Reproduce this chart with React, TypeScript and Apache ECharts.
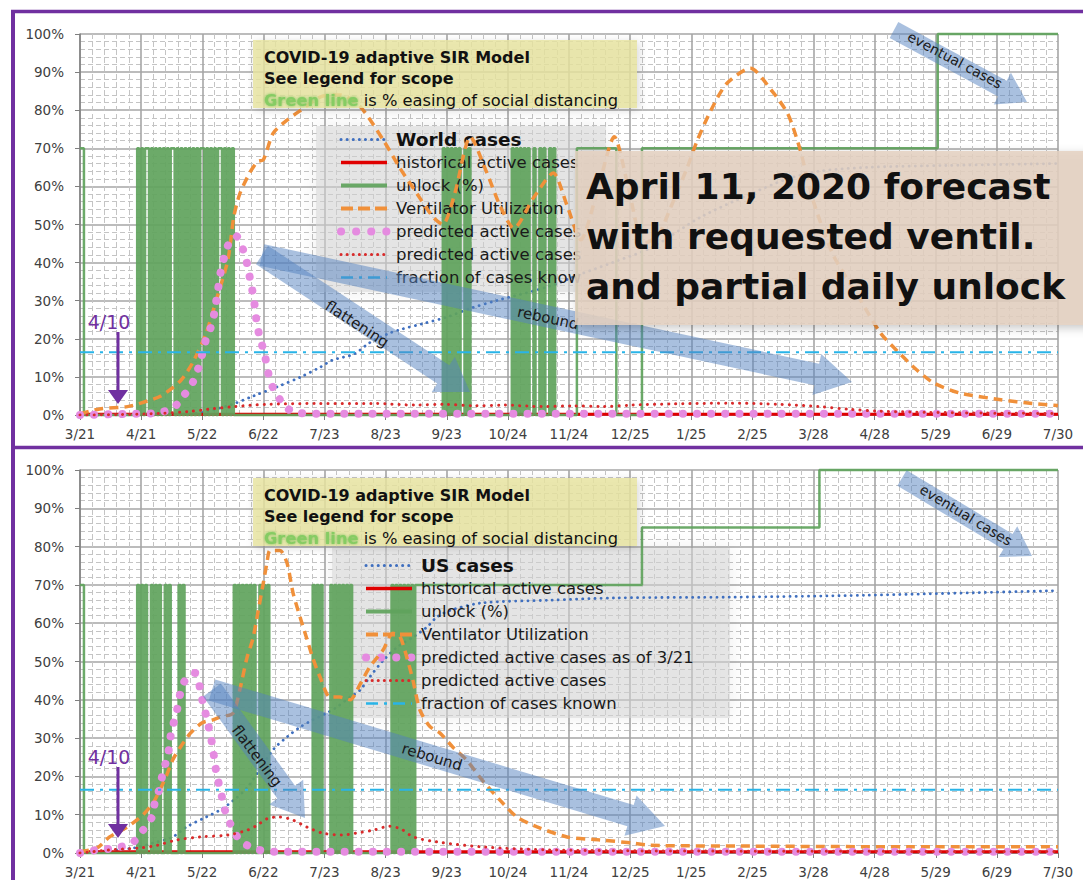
import React, { useEffect, useRef } from 'react';
import * as echarts from 'echarts';

const FONT = '"DejaVu Sans", sans-serif';

// x axis: day index from 3/21/2020; ticks every 31 days
const xTickLabels = ['3/21', '4/21', '5/22', '6/22', '7/23', '8/23', '9/23', '10/24', '11/24', '12/25', '1/25', '2/25', '3/28', '4/28', '5/29', '6/29', '7/30'];
const TICK_DAYS = 31;
const LAST_DAY = 496;

// ---------- World (top panel) ----------
const worldCases = [[0, 0], [40, 0.1], [60, 0.5], [76, 2.6], [88, 5], [100, 7.4], [112, 10], [122, 12.6], [128, 14.4], [139, 16], [147, 19], [157, 21.5], [163, 22.5], [174, 24], [186, 25.7], [198, 28], [211, 30], [237, 33.6], [254, 37], [270, 40], [290, 44], [315, 52], [340, 58], [359, 62], [375, 64], [400, 65], [440, 65.5], [496, 66]];
const worldHistorical = [[0, 0.2], [496, 0.2]];
const worldUnlock = [[0, 70], [2, 0],
  [29, 70], [30, 0], [31, 70], [32, 0], [33, 70], [35, 0], [36, 70], [37, 0], [38, 70], [39, 0], [40, 70], [41, 0], [42, 70], [43, 0], [44, 70], [45, 0], [46, 70], [48, 0], [49, 70], [50, 0], [51, 70], [52, 0], [53, 70], [54, 0], [55, 70], [56, 0], [57, 70], [58, 0], [59, 70], [60, 0], [61, 70], [63, 0], [64, 70], [65, 0], [66, 70], [67, 0], [68, 70], [69, 0], [70, 70], [72, 0], [73, 70], [74, 0], [75, 70], [76, 0], [77, 70], [78, 0],
  [184, 70], [185, 0], [186, 70], [187, 0], [188, 70], [189, 0], [190, 70], [191, 0], [192, 70], [193, 0], [195, 70], [196, 0], [197, 70], [198, 0],
  [219, 70], [220, 0], [221, 70], [222, 0], [223, 70], [224, 0], [225, 70], [226, 0], [227, 70], [228, 0], [230, 70], [231, 0], [233, 70], [234, 0], [235, 70], [236, 0], [238, 70], [239, 0], [240, 70], [241, 0],
  [252, 70], [272, 0], [285, 70], [435, 100], [496, 100]];
const worldVent = [[0, 0.3], [10, 1.6], [24, 2.2], [30, 3], [41, 5], [51, 9], [57, 13.6], [64, 21.5], [69, 30], [75, 40.7], [78, 52], [81, 58], [86, 63.5], [90, 66.5], [93, 67], [98, 74], [105, 77.4], [112, 80], [122, 83.5], [132, 84], [142, 81], [154, 72], [162, 65], [171, 58], [179, 52], [184, 50], [190, 58], [198, 73], [206, 64], [213, 55], [220, 49], [230, 57], [240, 63.5], [247, 55], [254, 46], [262, 58], [271, 73], [278, 60], [286, 45], [293, 47], [300, 55], [308, 65], [313, 72], [320, 80], [328, 87], [340, 91], [351, 85], [359, 79], [365, 70], [372, 56], [382, 42], [396, 30], [406, 21.5], [416, 16], [424, 12], [433, 8.4], [446, 5.8], [467, 4], [483, 3], [496, 2.5]];
const worldPred321 = [[0, 0], [25, 0.3], [38, 0.5], [47, 1.8], [52, 4.7], [57, 8.4], [60, 12.3], [62, 16], [64, 20], [67, 24], [68.5, 28], [70, 33], [71.5, 38], [73.5, 42], [75.5, 45], [79, 47], [83, 43], [85, 39], [86.5, 35], [88, 31], [89, 27], [90, 23], [92, 19], [94, 15], [95.5, 11], [98, 7], [103, 3], [109, 0.6], [130, 0.3], [496, 0.3]];
const worldPred = [[0, 0], [20, 0.1], [40, 0.4], [55, 0.9], [65, 1.5], [78, 2.2], [95, 2.8], [120, 3.0], [150, 3.0], [170, 2.6], [185, 2.8], [200, 2.4], [215, 2.6], [235, 2.2], [250, 2.4], [265, 2.2], [280, 2.6], [300, 2.9], [330, 3.1], [355, 2.8], [375, 2.2], [390, 1.5], [405, 1.0], [430, 0.7], [460, 0.5], [496, 0.4]];
const worldKnown = [[0, 16.5], [496, 16.5]];

// ---------- US (bottom panel) ----------
const usCases = [[0, 0], [27, 1.3], [37, 2.6], [47, 4.2], [54, 6.8], [64, 9.4], [71, 11.2], [78, 13.8], [85, 17.2], [91, 21.7], [98, 27], [105, 30.3], [112, 33], [118, 34.7], [125, 36.5], [130, 38], [137, 40.7], [142, 42.5], [147, 46], [154, 50.4], [161, 53.8], [169, 56.4], [176, 59], [181, 61.6], [188, 63.4], [204, 65.3], [238, 66], [272, 66.6], [331, 66.8], [399, 67.3], [496, 68.5]];
const usHistorical = [[0, 0.3], [496, 0.3]];
const usUnlock = [[0, 70], [2, 0],
  [29, 70], [30, 0], [31, 70], [32, 0], [33, 70], [34, 0], [36, 70], [37, 0], [38, 70], [39, 0], [40, 70], [41, 0], [43, 70], [44, 0], [45, 70], [46, 0], [50, 70], [51, 0], [52, 70], [53, 0],
  [78, 70], [79, 0], [80, 70], [81, 0], [82, 70], [83, 0], [84, 70], [85, 0], [86, 70], [87, 0], [88, 70], [89, 0], [91, 70], [92, 0], [93, 70], [94, 0], [95, 70], [96, 0],
  [118, 70], [119, 0], [120, 70], [121, 0], [122, 70], [123, 0], [127, 70], [128, 0], [129, 70], [130, 0], [131, 70], [132, 0], [133, 70], [134, 0], [135, 70], [136, 0], [137, 70], [138, 0],
  [158, 70], [159, 0], [160, 70], [161, 0], [162, 70], [163, 0], [164, 70], [165, 0], [166, 70], [167, 0], [168, 70], [169, 0], [170, 70], [285, 85], [375, 100], [496, 100]];
const usVent = [[0, 0.3], [8.6, 1.3], [15, 4.2], [24, 6.8], [32, 10], [37, 13], [40.5, 16.4], [44, 20.4], [47, 24.3], [51, 27.7], [56, 31.3], [62, 34], [67, 34.7], [71, 35.5], [77.6, 36.5], [81, 42.5], [84.7, 51], [87.7, 56], [90.3, 63], [92.8, 70], [94.8, 75.7], [96.4, 79], [101.4, 79], [105, 75.7], [108, 68], [111.6, 61.6], [115, 56], [118, 51], [121.7, 46], [126.8, 40.7], [131.8, 40.7], [137, 40], [142, 44], [147, 48.6], [153.7, 53], [158.7, 57.4], [162.3, 56.5], [165.8, 51], [168.9, 45], [172.4, 37.3], [177.5, 33], [182.6, 31.3], [189, 27.7], [196, 24.3], [204, 19], [213, 13.8], [221.6, 9.4], [231.8, 6.8], [247, 4.2], [263.7, 3.4], [280.4, 2.6], [289, 2], [340, 1.8], [432.6, 1.6], [496, 1.6]];
const usPred321 = [[0, 0], [8.6, 0.8], [17.7, 1.3], [26.4, 2.6], [32, 6], [36.5, 9.4], [38, 13.3], [40.6, 17.2], [42, 21], [44.6, 25.6], [45.6, 29.5], [47.2, 33.4], [49.2, 37.3], [50.7, 41.3], [53.2, 45], [58.3, 47], [60.9, 43], [62.4, 39], [64.4, 35], [65.9, 31.3], [67.4, 27.4], [68.5, 23], [70, 19], [72, 14.6], [73.5, 11.2], [77, 6.8], [81, 3.4], [87.7, 1.3], [97.4, 0.3], [496, 0.3]];
const usPred = [[0, 0], [15, 0.8], [30, 1.3], [39, 2], [49, 3.4], [61, 4.2], [75, 4.7], [85, 6], [90, 7.3], [95, 9], [101, 9.4], [108, 8.6], [115, 6.8], [123, 5.2], [133, 4.7], [140, 5.2], [149, 6], [157, 7], [163, 6.2], [169, 4.2], [181, 2.9], [204, 1.6], [238, 0.8], [314, 0.5], [496, 0.4]];
const usKnown = [[0, 16.5], [496, 16.5]];

// line styles (shared by series and legend icons)
const S_CASES = { color: '#3F6FBF', width: 2.8, type: [0.1, 6], cap: 'round' };
const S_HIST = { color: '#E00000', width: 3 };
const S_UNLOCK = { color: '#5FA35C', width: 2.5, opacity: 0.92 };
const S_VENT = { color: '#F0903A', width: 3.5, type: [9, 6] };
const S_P321 = { color: '#E58BE0', width: 8, type: [0.1, 14], cap: 'round' };
const S_PRED = { color: '#D82A2A', width: 3, type: [0.1, 7], cap: 'round' };
const S_KNOWN = { color: '#28B4E8', width: 2, type: [14, 6, 3, 6] };

const legendItems: [string, any][] = [
  ['historical active cases', { ...S_HIST, width: 3.5 }],
  ['unlock (%)', { ...S_UNLOCK, width: 4 }],
  ['Ventilator Utilization', { ...S_VENT, width: 4, type: [12, 5] }],
  ['predicted active cases as of 3/21', { ...S_P321, width: 8, type: [0.1, 15] }],
  ['predicted active cases', { ...S_PRED, width: 3, type: [0.1, 6] }],
  ['fraction of cases known', { ...S_KNOWN, width: 2.5, type: [12, 6, 3, 6] }],
];

function makeSeries(p: number, casesName: string, cases: number[][], hist: number[][], unlock: number[][], vent: number[][], pred321: number[][], pred: number[][], known: number[][]) {
  const c = { type: 'line', xAxisIndex: p, yAxisIndex: p, symbol: 'none', silent: true };
  return [
    { ...c, name: casesName, data: cases, smooth: 0.3, z: 2, itemStyle: { color: S_CASES.color }, lineStyle: S_CASES },
    { ...c, name: 'historical active cases', data: hist, z: 2, itemStyle: { color: S_HIST.color }, lineStyle: S_HIST },
    { ...c, name: 'unlock (%)', data: unlock, step: 'end', clip: false, z: 3, itemStyle: { color: S_UNLOCK.color }, lineStyle: S_UNLOCK },
    { ...c, name: 'Ventilator Utilization', data: vent, smooth: 0.25, z: 4, itemStyle: { color: S_VENT.color }, lineStyle: S_VENT },
    { ...c, name: 'predicted active cases as of 3/21', data: pred321, smooth: 0.3, z: 4, itemStyle: { color: S_P321.color }, lineStyle: S_P321 },
    { ...c, name: 'predicted active cases', data: pred, smooth: 0.3, z: 4, itemStyle: { color: S_PRED.color }, lineStyle: S_PRED },
    { ...c, name: 'fraction of cases known', data: known, z: 4, itemStyle: { color: S_KNOWN.color }, lineStyle: S_KNOWN },
  ];
}

function arrow(x1: number, y1: number, x2: number, y2: number, shaft: number, head: number, headLen: number) {
  const dx = x2 - x1, dy = y2 - y1;
  const L = Math.hypot(dx, dy);
  const ux = dx / L, uy = dy / L, nx = -uy, ny = ux;
  const bx = x2 - ux * headLen, by = y2 - uy * headLen;
  return {
    type: 'polygon', z: 20,
    shape: { points: [[x1 + nx * shaft / 2, y1 + ny * shaft / 2], [bx + nx * shaft / 2, by + ny * shaft / 2], [bx + nx * head / 2, by + ny * head / 2], [x2, y2], [bx - nx * head / 2, by - ny * head / 2], [bx - nx * shaft / 2, by - ny * shaft / 2], [x1 - nx * shaft / 2, y1 - ny * shaft / 2]] },
    style: { fill: 'rgba(84,130,192,0.5)' },
  };
}

// deg > 0 rotates clockwise (text running downward to the right)
function label(text: string, x: number, y: number, deg: number, size: number) {
  return { type: 'text', x, y, rotation: -deg * Math.PI / 180, z: 30, style: { text, fontFamily: FONT, fontSize: size, fill: '#1a1a1a', align: 'center', verticalAlign: 'middle' } };
}

function titleBox(y: number) {
  return [
    { type: 'rect', z: 25, shape: { x: 253, y, width: 384, height: 68 }, style: { fill: 'rgba(232,228,160,0.82)', shadowBlur: 8, shadowColor: 'rgba(0,0,0,0.18)', shadowOffsetX: 2, shadowOffsetY: 2 } },
    { type: 'text', z: 26, x: 264, y: y + 17, style: { text: 'COVID-19 adaptive SIR Model', fontFamily: FONT, fontSize: 16, fontWeight: 'bold', fill: '#111', verticalAlign: 'middle' } },
    { type: 'text', z: 26, x: 264, y: y + 38, style: { text: 'See legend for scope', fontFamily: FONT, fontSize: 16, fontWeight: 'bold', fill: '#111', verticalAlign: 'middle' } },
    { type: 'text', z: 26, x: 264, y: y + 60, style: { text: '{g|Green line} is % easing of social distancing', fontFamily: FONT, fontSize: 16.3, fill: '#111', verticalAlign: 'middle', rich: { g: { fontFamily: FONT, fontSize: 16.3, fontWeight: 'bold', fill: '#86CC64', textShadowColor: 'rgba(110,190,80,0.9)', textShadowBlur: 3 } } } },
  ];
}

function purpleMarker(yText: number, yTop: number, yTip: number) {
  return [
    { type: 'text', z: 30, x: 109, y: yText, style: { text: '4/10', fontFamily: FONT, fontSize: 19, fill: '#7030A0', align: 'center', verticalAlign: 'middle' } },
    { type: 'line', z: 30, shape: { x1: 118, y1: yTop, x2: 118, y2: yTip - 12 }, style: { stroke: '#7030A0', lineWidth: 3 } },
    { type: 'polygon', z: 30, shape: { points: [[108, yTip - 14], [128, yTip - 14], [118, yTip]] }, style: { fill: '#7030A0' } },
  ];
}

function xAxis(i: number) {
  return {
    type: 'value', gridIndex: i, min: 0, max: LAST_DAY, interval: TICK_DAYS,
    axisLabel: { formatter: (v: number) => xTickLabels[Math.round(v / TICK_DAYS)] ?? '', fontFamily: FONT, fontSize: 13.5, color: '#404040', margin: 12 },
    axisLine: { show: true, onZero: false, lineStyle: { color: '#7F7F7F', width: 1.5 } },
    axisTick: { show: true, length: 5, lineStyle: { color: '#7F7F7F' } },
    splitLine: { show: true, lineStyle: { color: '#A6A6A6', width: 1.6 } },
    minorTick: { show: false, splitNumber: 5 },
    minorSplitLine: { show: true, lineStyle: { color: '#C4C4C4', width: 1, type: [5, 3] } },
  };
}

function yAxis(i: number) {
  return {
    type: 'value', gridIndex: i, min: 0, max: 100, interval: 10,
    axisLabel: { formatter: '{value}%', fontFamily: FONT, fontSize: 13.5, color: '#404040', margin: 16 },
    axisLine: { show: true, lineStyle: { color: '#7F7F7F', width: 1.5 } },
    axisTick: { show: true, length: 5, lineStyle: { color: '#7F7F7F' } },
    splitLine: { show: true, lineStyle: { color: '#A6A6A6', width: 1.6 } },
    minorTick: { show: false, splitNumber: 5 },
    minorSplitLine: { show: true, lineStyle: { color: '#C4C4C4', width: 1, type: [5, 3] } },
  };
}

function legend(left: number, top: number, first: string, textWidth?: number) {
  const clip = textWidth ? { width: textWidth, overflow: 'truncate', ellipsis: '' } : {};
  return {
    orient: 'vertical', left, top, padding: 0, itemGap: 0, itemWidth: 46, itemHeight: 14, selectedMode: false,
    itemStyle: { opacity: 0, borderWidth: 0 },
    textStyle: { fontFamily: FONT, fontSize: 16.5, color: '#1a1a1a', lineHeight: 23, padding: [0, 0, 0, 4], ...clip },
    data: [
      { name: first, lineStyle: { ...S_CASES, width: 3 }, textStyle: { fontFamily: FONT, fontWeight: 'bold', fontSize: 18.5, lineHeight: 23, color: '#111' } },
      ...legendItems.map(([name, ls]) => ({ name, lineStyle: ls })),
    ],
  };
}

export default function App() {
  const ref = useRef<HTMLDivElement>(null);
  useEffect(() => {
    if (!ref.current) return;
    const chart = echarts.init(ref.current, undefined, { renderer: 'svg' });
    const option: any = {
      animation: false,
      backgroundColor: '#ffffff',
      grid: [
        { left: 80, top: 34, width: 978, height: 381 },
        { left: 80, top: 470, width: 978, height: 383 },
      ],
      xAxis: [xAxis(0), xAxis(1)],
      yAxis: [yAxis(0), yAxis(1)],
      legend: [legend(337, 128, 'World cases', 190), legend(362, 554, 'US cases')],
      series: [
        ...makeSeries(0, 'World cases', worldCases, worldHistorical, worldUnlock, worldVent, worldPred321, worldPred, worldKnown),
        ...makeSeries(1, 'US cases', usCases, usHistorical, usUnlock, usVent, usPred321, usPred, usKnown),
      ],
      graphic: [
        // purple frames
        { type: 'line', z: 40, shape: { x1: 11, y1: 11.5, x2: 1083, y2: 11.5 }, style: { stroke: '#7030A0', lineWidth: 3.5 } },
        { type: 'line', z: 40, shape: { x1: 13, y1: 10, x2: 13, y2: 880 }, style: { stroke: '#7030A0', lineWidth: 4 } },
        { type: 'line', z: 40, shape: { x1: 11, y1: 447.5, x2: 1083, y2: 447.5 }, style: { stroke: '#7030A0', lineWidth: 3.5 } },
        // legend backdrops
        { type: 'rect', z: 1, shape: { x: 316, y: 126, width: 290, height: 166 }, style: { fill: 'rgba(214,214,214,0.55)', shadowBlur: 18, shadowColor: 'rgba(0,0,0,0.12)' } },
        { type: 'rect', z: 1, shape: { x: 332, y: 548, width: 398, height: 170 }, style: { fill: 'rgba(214,214,214,0.55)', shadowBlur: 18, shadowColor: 'rgba(0,0,0,0.12)' } },
        ...titleBox(40),
        ...titleBox(478),
        // arrows top
        arrow(262, 255, 470, 392, 22, 42, 32),
        arrow(262, 255, 852, 382, 22, 42, 36),
        arrow(894, 30, 1027, 102, 18, 36, 28),
        // arrows bottom
        arrow(212, 690, 305, 818, 22, 42, 32),
        arrow(212, 690, 665, 826, 22, 42, 36),
        arrow(902, 478, 1032, 556, 18, 36, 28),
        label('flattening', 357, 324, 33, 15),
        label('rebound', 548, 318, 12, 15),
        label('eventual cases', 955, 60, 28, 14),
        label('flattening', 257, 756, 53, 15),
        label('rebound', 432, 757, 17, 15),
        label('eventual cases', 966, 515, 31, 14),
        ...purpleMarker(322, 332, 404),
        ...purpleMarker(757, 767, 838),
        // forecast box
        { type: 'rect', z: 35, shape: { x: 575, y: 151, width: 520, height: 174 }, style: { fill: 'rgba(228,208,192,0.86)', shadowBlur: 10, shadowColor: 'rgba(0,0,0,0.25)', shadowOffsetX: 3, shadowOffsetY: 3 } },
        { type: 'text', z: 36, x: 586, y: 186, style: { text: 'April 11, 2020 forecast', fontFamily: FONT, fontSize: 36, fontWeight: 'bold', fill: '#111', verticalAlign: 'middle' } },
        { type: 'text', z: 36, x: 586, y: 236, style: { text: 'with requested ventil.', fontFamily: FONT, fontSize: 36, fontWeight: 'bold', fill: '#111', verticalAlign: 'middle' } },
        { type: 'text', z: 36, x: 586, y: 286, style: { text: 'and partial daily unlock', fontFamily: FONT, fontSize: 36, fontWeight: 'bold', fill: '#111', verticalAlign: 'middle' } },
      ],
    };
    chart.setOption(option);
    return () => chart.dispose();
  }, []);
  return <div ref={ref} style={{ position: 'fixed', left: 0, top: 0, width: 1083, height: 880, background: '#fff' }} />;
}
